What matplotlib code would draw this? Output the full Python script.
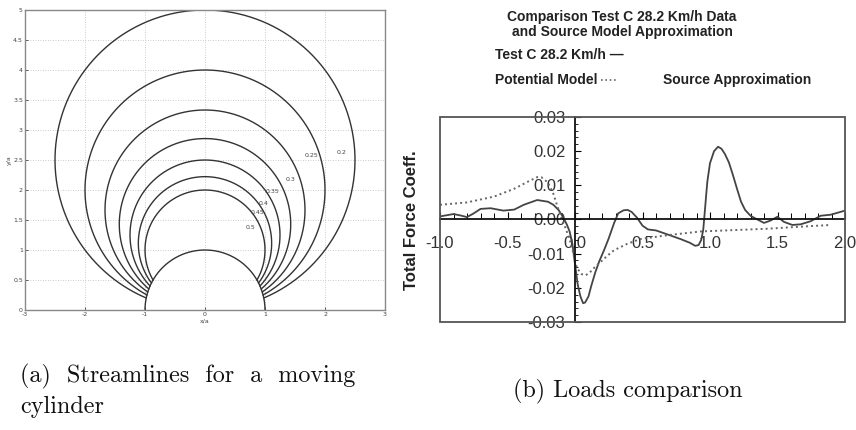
import numpy as np
import matplotlib
matplotlib.use("Agg")
import matplotlib.pyplot as plt
from matplotlib.patches import Rectangle
from matplotlib.ticker import FixedLocator, FixedFormatter, MultipleLocator

plt.rcParams['axes.unicode_minus'] = False

# ---- (a) streamlines psi = y / (x^2 + y^2) around a moving cylinder ----
psi_levels = [0.2, 0.25, 0.3, 0.35, 0.4, 0.45, 0.5]
psi_labels = ['0.2', '0.25', '0.3', '0.35', '0.4', '0.45', '0.5']
label_x = [2.28, 1.78, 1.42, 1.13, 0.97, 0.88, 0.75]
label_y = [2.62, 2.57, 2.17, 1.97, 1.78, 1.63, 1.38]

# ---- (b) total force coefficient along the path ----
test_x = [-1.0, -0.9, -0.85, -0.8, -0.75, -0.7, -0.625, -0.53, -0.45, -0.38, -0.28,
          -0.2, -0.16, -0.12, -0.09, -0.06, -0.04, -0.02, -0.005, 0.02, 0.04, 0.06,
          0.075, 0.1, 0.12, 0.15, 0.18, 0.215, 0.25, 0.29, 0.32, 0.36, 0.39, 0.42,
          0.46, 0.5, 0.54, 0.6, 0.68, 0.78, 0.85, 0.89, 0.915, 0.935, 0.95, 0.965,
          0.98, 1.0, 1.03, 1.06, 1.085, 1.11, 1.14, 1.17, 1.2, 1.23, 1.26, 1.3,
          1.351, 1.40, 1.449, 1.499, 1.548, 1.61, 1.672, 1.746, 1.82, 1.894, 2.0]
test_y = [0.0009, 0.0016, 0.0012, 0.0007, 0.0018, 0.0031, 0.0033, 0.0026, 0.0029,
          0.0043, 0.0057, 0.0052, 0.0043, 0.0027, 0.0008, -0.0015, -0.0035, -0.0070,
          -0.0115, -0.0190, -0.0225, -0.0245, -0.0243, -0.0225, -0.0195, -0.0155,
          -0.0122, -0.0090, -0.0055, -0.0010, 0.0018, 0.0027, 0.0028, 0.0022,
          0.0005, -0.0018, -0.0029, -0.0032, -0.0043, -0.0057, -0.0068, -0.0077,
          -0.0075, -0.0060, -0.0030, 0.0040, 0.0110, 0.0165, 0.0200, 0.0213, 0.0207,
          0.0192, 0.0167, 0.0130, 0.0090, 0.0052, 0.0028, 0.0011, 0.0000, -0.0010,
          -0.0003, 0.0008, -0.0007, -0.0016, -0.0014, -0.0005, 0.0011, 0.0014,
          0.0026]

src_x = [-1.0, -0.8, -0.6, -0.45, -0.353, -0.28, -0.25, -0.2, -0.16, -0.13, -0.1,
         -0.07, -0.04, -0.015, 0.0, 0.02, 0.05, 0.08, 0.11, 0.15, 0.19, 0.24, 0.289,
         0.388, 0.486, 0.684, 0.931, 1.178, 1.425, 1.672, 1.894]
src_y = [0.0043, 0.0050, 0.0067, 0.0090, 0.0110, 0.0124, 0.0124, 0.0108, 0.0075,
         0.0038, 0.0005, -0.0025, -0.0058, -0.0095, -0.0125, -0.0145, -0.0160,
         -0.0163, -0.0155, -0.0138, -0.0124, -0.0106, -0.0090, -0.0071, -0.0057,
         -0.0046, -0.0035, -0.0031, -0.0027, -0.0021, -0.0016]

x_ticks = [-1.0, -0.5, 0.0, 0.5, 1.0, 1.5, 2.0]
x_tick_labels = ['-1.0', '-0.5', '0.0', '0.5', '1.0', '1.5', '2.0']
y_ticks = [-0.03, -0.02, -0.01, 0.0, 0.01, 0.02, 0.03]
y_tick_labels = ['-0.03', '-0.02', '-0.01', '0.00', '0.01', '0.02', '0.03']

W, H = 856, 430
fig = plt.figure(figsize=(W / 100, H / 100), dpi=100)


def fx(px):
    return px / W


def fy(py):
    return 1 - py / H


# ----------------------------- panel (a) -----------------------------
ax1 = fig.add_axes([fx(25), fy(310), 360 / W, 300 / H])
ax1.set_xlim(-3, 3)
ax1.set_ylim(0, 5)
ax1.set_xticks(range(-3, 4))
ax1.set_yticks(np.arange(0, 5.01, 0.5))
ax1.set_xticklabels([str(v) for v in range(-3, 4)])
ax1.set_yticklabels(['0', '0.5', '1', '1.5', '2', '2.5', '3', '3.5', '4', '4.5', '5'])
ax1.tick_params(labelsize=4.5, length=2, width=0.6, direction='in', colors='#444',
                pad=1.5)
ax1.grid(True, linestyle=(0, (1, 2)), color='#bbbbbb', linewidth=0.6)
for s in ax1.spines.values():
    s.set_color('#888888')
    s.set_linewidth(1.0)
ax1.set_xlabel('x/a', fontsize=4.5, labelpad=1, color='#444')
ax1.set_ylabel('y/a', fontsize=4.5, labelpad=1, color='#444')

# cylinder surface
t = np.linspace(0, np.pi, 200)
ax1.plot(np.cos(t), np.sin(t), color='#333333', lw=1.0)

# each streamline is a circle tangent to the x axis, cut at the cylinder surface
for c, lab, lx, ly in zip(psi_levels, psi_labels, label_x, label_y):
    R = 1 / (2 * c)
    phi0 = np.arccos(1 - 2 * c * c)
    phi = np.linspace(phi0, 2 * np.pi - phi0, 400)
    ax1.plot(R * np.sin(phi), R * (1 - np.cos(phi)), color='#333333', lw=1.0)
    ax1.text(lx, ly, lab, fontsize=4.5, color='#444', ha='center', va='center')

# ----------------------------- panel (b) -----------------------------
ax2 = fig.add_axes([fx(440), fy(322), 405 / W, 205 / H])
ax2.set_xlim(-1, 2)
ax2.set_ylim(-0.03, 0.03)
ax2.plot(test_x, test_y, color='#444444', lw=1.3, solid_joinstyle='round')
ax2.plot(src_x, src_y, color='#666666', lw=1.4, linestyle=(0, (1, 1.6)))

ax2.spines['left'].set_position(('data', 0))
ax2.spines['bottom'].set_position(('data', 0))
ax2.spines['top'].set_visible(False)
ax2.spines['right'].set_visible(False)
for k in ('left', 'bottom'):
    ax2.spines[k].set_linewidth(1.3)
    ax2.spines[k].set_color('#111111')
ax2.add_patch(Rectangle((0, 0), 1, 1, transform=ax2.transAxes, fill=False,
                        ec='#555555', lw=1.3, clip_on=False, zorder=3))

ax2.xaxis.set_major_locator(FixedLocator(x_ticks))
ax2.xaxis.set_major_formatter(FixedFormatter(x_tick_labels))
ax2.xaxis.set_minor_locator(MultipleLocator(0.1))
ax2.yaxis.set_major_locator(FixedLocator(y_ticks))
ax2.yaxis.set_major_formatter(FixedFormatter(y_tick_labels))
ax2.yaxis.set_minor_locator(MultipleLocator(0.002))
ax2.tick_params(axis='x', which='major', direction='in', length=5, width=0.8,
                pad=12, labelsize=12, labelcolor='#333333')
ax2.tick_params(axis='x', which='minor', direction='in', length=4, width=0.7)
ax2.tick_params(axis='y', which='major', direction='in', length=4, width=0.8,
                pad=7, labelsize=12, labelcolor='#333333')
ax2.tick_params(axis='y', which='minor', direction='in', length=2.5, width=0.6)
for lbl in ax2.get_xticklabels() + ax2.get_yticklabels():
    lbl.set_family('Liberation Sans')

fig.text(fx(412), fy(220), 'Total Force Coeff.', rotation=90, ha='center',
         va='center', fontsize=12, fontweight='bold', family='Liberation Sans',
         color='#222222')

# heading and key
hfont = dict(family='Liberation Sans', fontweight='bold', fontsize=10,
             color='#222222', va='center', ha='left')
fig.text(fx(507), fy(17), 'Comparison Test C 28.2 Km/h Data', **hfont)
fig.text(fx(512), fy(32), 'and Source Model Approximation', **hfont)
fig.text(fx(495), fy(55), 'Test C 28.2 Km/h \u2014', **hfont)
fig.text(fx(495), fy(80), 'Potential Model', **hfont)
fig.text(fx(663), fy(80), 'Source Approximation', **hfont)
fig.lines.append(plt.Line2D([fx(601), fx(618)], [fy(80), fy(80)],
                            transform=fig.transFigure, color='#666666', lw=1.2,
                            linestyle=(0, (1, 1.6))))

# sub-captions
cfont = dict(family='cmr10', fontsize=17.4, color='#111111', va='center', ha='left')
fig.text(fx(20), fy(376), '(a)  Streamlines  for  a  moving', **cfont)
fig.text(fx(20), fy(407), 'cylinder', **cfont)
fig.text(fx(513), fy(391), '(b) Loads comparison', **cfont)

fig.savefig('out.png', dpi=100)
